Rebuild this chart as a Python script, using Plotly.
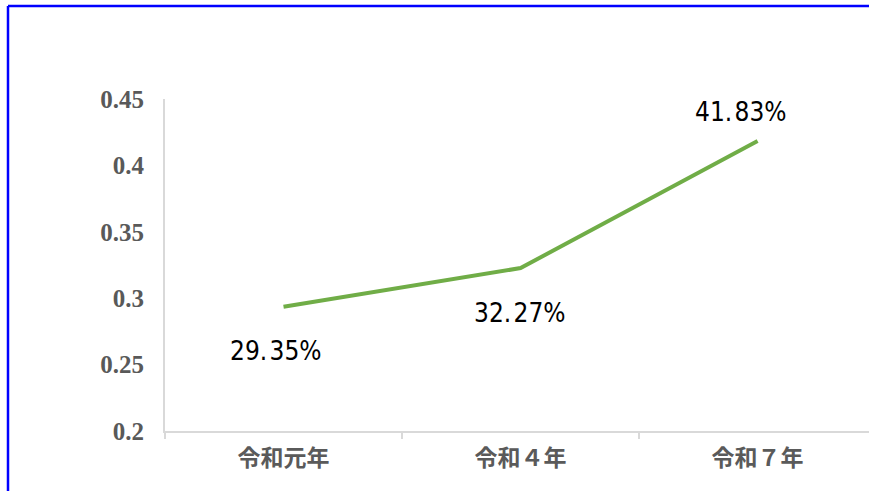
import plotly.graph_objects as go

categories = ["令和元年", "令和４年", "令和７年"]
values = [0.2935, 0.3227, 0.4183]
y_tickvals = [0.2, 0.25, 0.3, 0.35, 0.4, 0.45]
y_ticktext = ["0.2", "0.25", "0.3", "0.35", "0.4", "0.45"]

# label offsets (px) relative to each point
label_xshift = [-8, -1, -17]
label_yshift = [-44, -45, 29]

W, H = 869, 491
L, R, T, B = 165, 0, 99, 60

fig = go.Figure()
fig.add_trace(go.Scatter(
    x=categories, y=values, mode="lines",
    line=dict(color="#70ad47", width=4),
    hoverinfo="skip", showlegend=False,
))

for c, v, dx, dy in zip(categories, values, label_xshift, label_yshift):
    txt = f"{v*100:.2f}%".replace(".", ".\u200a")
    fig.add_annotation(
        x=c, y=v, text=txt, showarrow=False,
        xshift=dx, yshift=dy,
        font=dict(family="DejaVu Sans Condensed", size=26, color="#000000"),
    )

pw = W - L - R
ph = H - T - B
left_x = (8 - L) / pw
top_y = (H - B - 6) / ph
bottom_y = (H - B - 500) / ph
right_x = (880 - L) / pw
fig.add_shape(type="line", xref="paper", yref="paper", x0=left_x, x1=left_x, y0=bottom_y, y1=top_y,
              line=dict(color="#0000ff", width=2.5))
fig.add_shape(type="line", xref="paper", yref="paper", x0=left_x, x1=right_x, y0=top_y, y1=top_y,
              line=dict(color="#0000ff", width=2.5))

fig.update_xaxes(
    type="category", range=[-0.5, 2.47], tickson="boundaries",
    ticks="outside", ticklen=6, tickcolor="#d9d9d9", tickwidth=2,
    showline=True, linecolor="#d9d9d9", linewidth=2,
    showgrid=False, zeroline=False, ticklabelstandoff=5,
    tickfont=dict(family="Noto Sans CJK JP", size=23, color="#5a5a5a", weight="bold"),
)
fig.update_yaxes(
    range=[0.2, 0.45], tickvals=y_tickvals, ticktext=y_ticktext,
    ticks="", showline=True, linecolor="#d9d9d9", linewidth=2,
    showgrid=False, zeroline=False, ticklabelstandoff=14,
    tickfont=dict(family="Liberation Serif", size=25, color="#595959", weight="bold"),
)
fig.update_layout(
    width=W, height=H,
    margin=dict(l=L, r=R, t=T, b=B, pad=0),
    paper_bgcolor="white", plot_bgcolor="white",
)
fig.write_html("out.html", config={"displayModeBar": False},
               post_script="document.body.style.margin='0';")
